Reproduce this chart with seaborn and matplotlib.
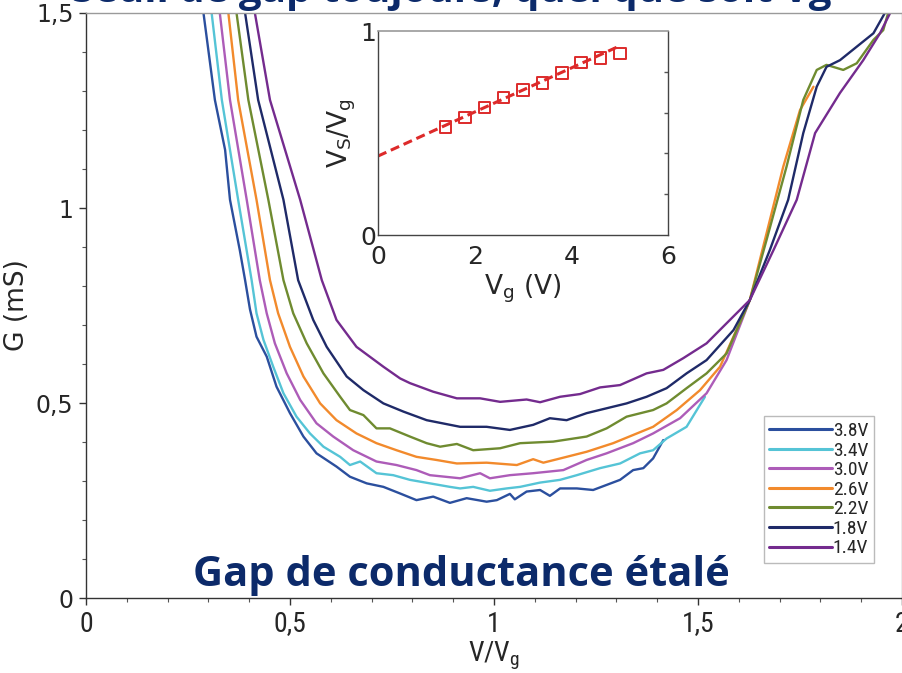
import numpy as np
import pandas as pd
import matplotlib
matplotlib.use("Agg")
import matplotlib.pyplot as plt
from matplotlib import font_manager
from matplotlib.ticker import MultipleLocator, FixedLocator
import seaborn as sns

# ---- conductance curves G(V/Vg) for several gate voltages ----
labels = ["3.8V", "3.4V", "3.0V", "2.6V", "2.2V", "1.8V", "1.4V"]
colors = ["#2b4f9e", "#55c4d6", "#ad5cb8", "#f28a2c", "#6f8b30", "#1f2a68", "#742b8e"]

x_38 = [0.288, 0.316, 0.341, 0.353, 0.377, 0.390, 0.402, 0.418, 0.443, 0.467, 0.500, 0.533, 0.565, 0.614,
        0.647, 0.688, 0.729, 0.770, 0.810, 0.851, 0.892, 0.933, 0.982, 1.007, 1.039, 1.051, 1.080, 1.113,
        1.137, 1.162, 1.203, 1.243, 1.276, 1.309, 1.341, 1.366, 1.390, 1.415]
g_38 = [1.5, 1.277, 1.149, 1.021, 0.892, 0.815, 0.74, 0.670, 0.619, 0.542, 0.474, 0.414, 0.371, 0.337,
        0.311, 0.294, 0.285, 0.268, 0.251, 0.260, 0.244, 0.256, 0.247, 0.251, 0.267, 0.253, 0.273, 0.277,
        0.262, 0.281, 0.281, 0.277, 0.290, 0.303, 0.328, 0.333, 0.358, 0.405]

x_34 = [0.308, 0.333, 0.373, 0.406, 0.418, 0.435, 0.459, 0.484, 0.516, 0.549, 0.582, 0.623, 0.647, 0.672,
        0.712, 0.753, 0.794, 0.843, 0.892, 0.917, 0.949, 0.990, 1.031, 1.064, 1.113, 1.162, 1.203, 1.260,
        1.309, 1.358, 1.390, 1.423, 1.472, 1.517]
g_34 = [1.5, 1.277, 1.021, 0.815, 0.730, 0.662, 0.593, 0.525, 0.465, 0.422, 0.388, 0.362, 0.341, 0.350,
        0.320, 0.315, 0.303, 0.294, 0.285, 0.281, 0.285, 0.275, 0.281, 0.285, 0.296, 0.303, 0.315, 0.333,
        0.345, 0.371, 0.379, 0.409, 0.439, 0.516]

x_30 = [0.328, 0.353, 0.394, 0.426, 0.443, 0.463, 0.492, 0.525, 0.565, 0.606, 0.655, 0.712, 0.761, 0.810,
        0.843, 0.917, 0.966, 0.990, 1.039, 1.096, 1.170, 1.227, 1.276, 1.341, 1.390, 1.456, 1.521, 1.570,
        1.627]
g_30 = [1.5, 1.277, 1.021, 0.815, 0.730, 0.653, 0.576, 0.508, 0.448, 0.414, 0.379, 0.350, 0.341, 0.328,
        0.315, 0.307, 0.320, 0.307, 0.315, 0.320, 0.328, 0.354, 0.371, 0.397, 0.422, 0.461, 0.525, 0.610,
        0.764]

x_26 = [0.349, 0.373, 0.418, 0.451, 0.471, 0.500, 0.533, 0.574, 0.614, 0.663, 0.712, 0.761, 0.810, 0.859,
        0.909, 0.982, 1.056, 1.096, 1.121, 1.178, 1.227, 1.292, 1.341, 1.390, 1.448, 1.505, 1.554, 1.627,
        1.668, 1.709, 1.750, 1.783]
g_26 = [1.5, 1.277, 1.021, 0.815, 0.730, 0.644, 0.568, 0.499, 0.456, 0.422, 0.397, 0.379, 0.362, 0.354,
        0.345, 0.347, 0.341, 0.356, 0.347, 0.362, 0.375, 0.397, 0.418, 0.439, 0.482, 0.533, 0.593, 0.764,
        0.935, 1.106, 1.251, 1.311]

x_22 = [0.369, 0.398, 0.447, 0.484, 0.508, 0.541, 0.582, 0.623, 0.647, 0.680, 0.712, 0.745, 0.794, 0.835,
        0.868, 0.909, 0.949, 1.015, 1.064, 1.145, 1.227, 1.276, 1.325, 1.390, 1.423, 1.472, 1.521, 1.570,
        1.627, 1.668, 1.717, 1.758, 1.791, 1.815, 1.856, 1.889, 1.930, 1.954, 1.966]
g_22 = [1.5, 1.277, 1.021, 0.815, 0.730, 0.653, 0.576, 0.516, 0.482, 0.469, 0.435, 0.435, 0.414, 0.397,
        0.388, 0.395, 0.379, 0.384, 0.397, 0.401, 0.414, 0.435, 0.465, 0.482, 0.499, 0.538, 0.576, 0.627,
        0.764, 0.918, 1.106, 1.277, 1.354, 1.367, 1.354, 1.371, 1.431, 1.456, 1.5]

x_18 = [0.390, 0.422, 0.484, 0.520, 0.557, 0.590, 0.639, 0.680, 0.729, 0.778, 0.835, 0.917, 0.982, 1.039,
        1.096, 1.137, 1.178, 1.227, 1.325, 1.374, 1.423, 1.472, 1.521, 1.587, 1.627, 1.676, 1.721, 1.758,
        1.791, 1.815, 1.848, 1.905, 1.930, 1.958]
g_18 = [1.5, 1.277, 1.021, 0.815, 0.713, 0.644, 0.568, 0.533, 0.499, 0.478, 0.456, 0.439, 0.439, 0.431,
        0.444, 0.461, 0.456, 0.474, 0.499, 0.516, 0.538, 0.576, 0.610, 0.687, 0.764, 0.892, 1.021, 1.192,
        1.311, 1.362, 1.379, 1.427, 1.448, 1.5]

x_14 = [0.414, 0.451, 0.525, 0.578, 0.614, 0.663, 0.729, 0.770, 0.794, 0.851, 0.909, 0.966, 1.015, 1.080,
        1.113, 1.162, 1.211, 1.260, 1.309, 1.374, 1.415, 1.464, 1.521, 1.562, 1.627, 1.685, 1.742, 1.787,
        1.848, 1.905, 1.946, 1.971]
g_14 = [1.5, 1.277, 1.021, 0.815, 0.713, 0.644, 0.593, 0.563, 0.551, 0.529, 0.512, 0.512, 0.503, 0.509,
        0.502, 0.516, 0.523, 0.540, 0.546, 0.576, 0.585, 0.615, 0.653, 0.696, 0.764, 0.892, 1.021, 1.192,
        1.295, 1.379, 1.448, 1.5]

series_x = [x_38, x_34, x_30, x_26, x_22, x_18, x_14]
series_g = [g_38, g_34, g_30, g_26, g_22, g_18, g_14]

# ---- inset: Vs/Vg versus Vg ----
vg_pts = [1.4, 1.8, 2.2, 2.6, 3.0, 3.4, 3.8, 4.2, 4.6, 5.0]
ratio_pts = [0.530, 0.576, 0.625, 0.674, 0.710, 0.746, 0.794, 0.845, 0.868, 0.889]
fit_vg = [0.0, 5.0]
fit_ratio = [0.387, 0.927]

# ---- fonts ----
available = {f.name for f in font_manager.fontManager.ttflist}
def pick(*names):
    for n in names:
        if n in available:
            return n
    return "DejaVu Sans"

narrow = pick("Liberation Sans Narrow", "DejaVu Sans Condensed", "Roboto Condensed", "Liberation Sans")
sans = pick("DejaVu Sans")
bold_font = pick("Open Sans", "Lato", "Liberation Sans")

sns.set_theme(style="white")
plt.rcParams["font.family"] = [sans]
plt.rcParams["mathtext.fontset"] = "dejavusans"

df = pd.concat(
    [pd.DataFrame({"V/Vg": xs, "G": gs, "Vg": lab}) for xs, gs, lab in zip(series_x, series_g, labels)],
    ignore_index=True,
)

fig = plt.figure(figsize=(9.03, 6.73), dpi=100)
ax = fig.add_axes([0.0952, 0.1114, 0.9037, 0.8693])

sns.lineplot(data=df, x="V/Vg", y="G", hue="Vg", hue_order=labels, palette=colors,
             sort=False, estimator=None, linewidth=1.7, ax=ax)

ax.set_xlim(0, 2)
ax.set_ylim(0, 1.5)
ax.xaxis.set_major_locator(FixedLocator([0, 0.5, 1, 1.5, 2]))
ax.xaxis.set_minor_locator(MultipleLocator(0.1))
ax.yaxis.set_major_locator(FixedLocator([0, 0.5, 1, 1.5]))
ax.yaxis.set_minor_locator(MultipleLocator(0.1))
ax.set_xticklabels(["0", "0,5", "1", "1,5", "2"], fontsize=20, family=narrow)
ax.set_yticklabels(["0", "0,5", "1", "1,5"], fontsize=17, family=sans)
ax.tick_params(which="major", direction="out", length=5, width=1, color="#333333", pad=4,
               bottom=True, left=True)
ax.tick_params(which="minor", direction="out", length=3, width=0.8, color="#555555",
               bottom=True, left=True)
for side in ["left", "bottom"]:
    ax.spines[side].set_color("#333333")
    ax.spines[side].set_linewidth(1.0)
for side in ["top", "right"]:
    ax.spines[side].set_color("#9a9a9a")
    ax.spines[side].set_linewidth(1.0)
ax.set_xlabel(r"V/V$_\mathregular{g}$", fontsize=20, family=narrow, labelpad=1)
ax.set_ylabel("G (mS)", fontsize=19, family=sans)
ax.yaxis.set_label_coords(-0.068, 0.5)

leg = ax.legend(loc="lower right", bbox_to_anchor=(0.9655, 0.0595), frameon=True, fancybox=False,
                fontsize=14, handlelength=3.2, handletextpad=0.05, labelspacing=0.08,
                borderpad=0.3, borderaxespad=0)
leg.get_frame().set_edgecolor("#aaaaaa")
leg.get_frame().set_linewidth(1.0)
for t in leg.get_texts():
    t.set_family(narrow)
for h in leg.get_lines():
    h.set_linewidth(2.2)

fig.text(0.511, 0.1295, "Gap de conductance étalé", ha="center", va="baseline",
         fontsize=30, fontweight="bold", color="#0c2a6a", family=bold_font)
fig.text(0.50, 0.9965, "Seuil de gap toujours, quel que soit Vg", ha="center", va="baseline",
         fontsize=29, fontweight="bold", color="#0c2a6a", family=bold_font)

# ---- inset ----
ins = fig.add_axes([0.4186, 0.6508, 0.3212, 0.3031])
sns.lineplot(x=fit_vg, y=fit_ratio, color="#dd2a2a", linewidth=2.2, ax=ins)
ins.lines[-1].set_dashes([3, 1.6])
sns.scatterplot(x=vg_pts, y=ratio_pts, marker="s", s=70, facecolor="none",
                edgecolor="#dd2a2a", linewidth=1.4, ax=ins, zorder=3)
ins.set_xlim(0, 6)
ins.set_ylim(0, 1)
ins.xaxis.set_major_locator(FixedLocator([0, 2, 4, 6]))
ins.xaxis.set_minor_locator(FixedLocator([1, 3, 5]))
ins.set_xticklabels(["0", "2", "4", "6"], fontsize=18)
ins.yaxis.set_major_locator(FixedLocator([0, 1]))
ins.set_yticklabels(["0", "1"], fontsize=18)
ins.yaxis.set_minor_locator(FixedLocator([0.2, 0.4, 0.6, 0.8]))
ins.tick_params(axis="x", which="both", direction="in", length=3, color="#555555", pad=7)
ins.tick_params(axis="y", which="major", direction="in", length=0, pad=1)
ins.tick_params(axis="y", which="minor", direction="in", length=3, color="#555555",
                left=False, right=True)
for side in ["left", "bottom", "right"]:
    ins.spines[side].set_color("#444444")
    ins.spines[side].set_linewidth(1.0)
ins.spines["top"].set_color("#9a9a9a")
ins.spines["top"].set_linewidth(1.2)
ins.set_facecolor("white")
ins.set_xlabel(r"V$_\mathregular{g}$ (V)", fontsize=19, labelpad=3)
ins.set_ylabel(r"V$_\mathregular{S}$/V$_\mathregular{g}$", fontsize=19, labelpad=2)

fig.savefig("out.png", dpi=100, facecolor="white")
